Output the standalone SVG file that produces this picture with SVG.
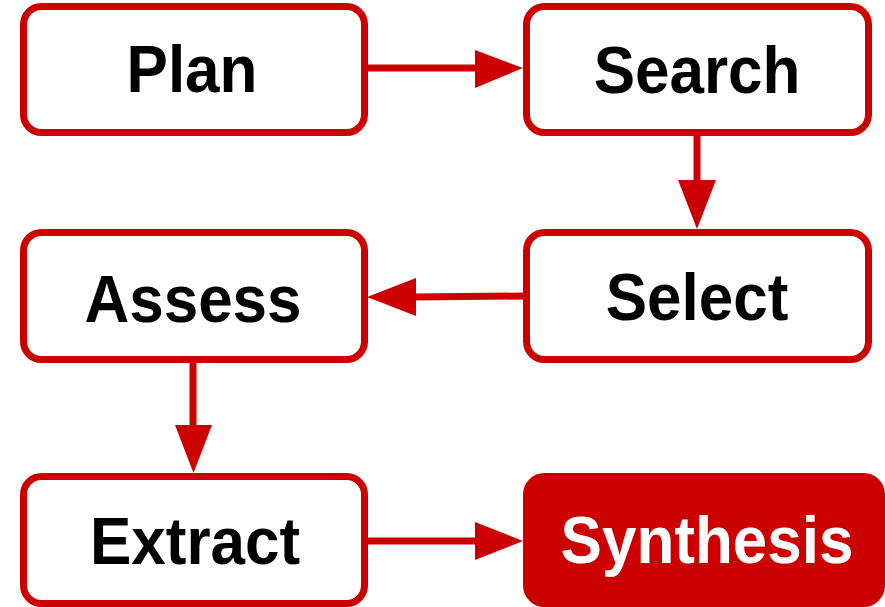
<svg xmlns="http://www.w3.org/2000/svg" width="885" height="607" viewBox="0 0 885 607">
  <style>
    .box { fill: #ffffff; stroke: #cc0000; stroke-width: 7; }
    .box-final { fill: #cc0000; stroke: #cc0000; stroke-width: 7; }
    .label { font-family: "Liberation Sans", Arial, sans-serif; font-weight: bold; font-size: 62px; text-anchor: middle; fill: #000000; }
    .label-final { fill: #ffffff; }
    .edge { stroke: #cc0000; stroke-width: 7; fill: none; }
    .head { fill: #cc0000; }
  </style>
  <rect width="885" height="607" fill="#ffffff"/>

  <g id="node-plan">
    <rect class="box" x="23.5" y="6.5" width="341" height="126" rx="18"/>
    <text class="label" transform="translate(192,92) scale(1,1.07)">Plan</text>
  </g>
  <g id="node-search">
    <rect class="box" x="526.5" y="6.5" width="342" height="126" rx="18"/>
    <text class="label" transform="translate(697,93) scale(1,1.07)">Search</text>
  </g>
  <g id="node-select">
    <rect class="box" x="526.5" y="232.5" width="342" height="127" rx="18"/>
    <text class="label" transform="translate(697,320) scale(1,1.07)">Select</text>
  </g>
  <g id="node-assess">
    <rect class="box" x="23.5" y="232.5" width="341" height="127" rx="18"/>
    <text class="label" transform="translate(193,322) scale(1,1.07)">Assess</text>
  </g>
  <g id="node-extract">
    <rect class="box" x="23.5" y="476.5" width="341" height="127" rx="18"/>
    <text class="label" transform="translate(195,564) scale(1,1.07)">Extract</text>
  </g>
  <g id="node-synthesis">
    <rect class="box-final" x="526.5" y="476.5" width="355" height="127" rx="18"/>
    <text class="label label-final" transform="translate(707,563) scale(1,1.07)">Synthesis</text>
  </g>

  <g id="connectors">
    <!-- Plan -> Search -->
    <line class="edge" x1="368" y1="68" x2="477" y2="68"/>
    <polygon class="head" points="475,50 523,68 475,88"/>
    <!-- Search -> Select -->
    <line class="edge" x1="697" y1="136" x2="697" y2="182"/>
    <polygon class="head" points="678,180 716,180 697,229"/>
    <!-- Select -> Assess -->
    <line class="edge" x1="523" y1="296" x2="414" y2="297"/>
    <polygon class="head" points="416,278 367,297 416,316"/>
    <!-- Assess -> Extract -->
    <line class="edge" x1="193" y1="363" x2="193" y2="427"/>
    <polygon class="head" points="175,425 212,425 193.5,473"/>
    <!-- Extract -> Synthesis -->
    <line class="edge" x1="368" y1="541" x2="477" y2="541"/>
    <polygon class="head" points="475,522 523,541 475,560"/>
  </g>
</svg>
